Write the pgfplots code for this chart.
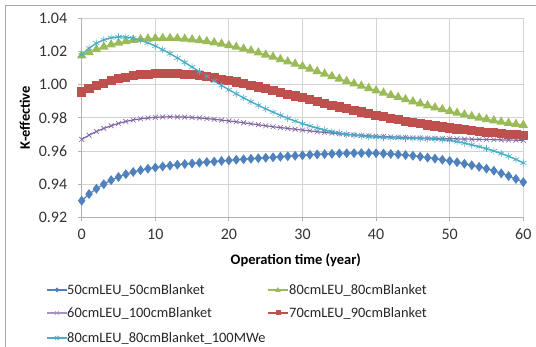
\documentclass[border=0pt]{standalone}
\usepackage{pgfplots}
\pgfplotsset{compat=1.18}
\usepackage{pgfplotstable}
\usepackage{fontspec}
\setmainfont{Carlito}
\definecolor{xblue}{HTML}{4F81BD}
\definecolor{xred}{HTML}{C0504D}
\definecolor{xgreen}{HTML}{9BBB59}
\definecolor{xpurple}{HTML}{8064A2}
\definecolor{xcyan}{HTML}{4BACC6}
\pgfplotstableread{
t a b c d e
0 0.9300 1.0175 0.9955 0.9670 1.0180
1 0.9340 1.0195 0.9975 0.9695 1.0220
2 0.9372 1.0213 0.9993 0.9717 1.0250
3 0.9400 1.0228 1.0009 0.9736 1.0270
4 0.9424 1.0241 1.0023 0.9752 1.0283
5 0.9443 1.0252 1.0035 0.9766 1.0288
6 0.9460 1.0261 1.0045 0.9778 1.0287
7 0.9473 1.0268 1.0053 0.9787 1.0280
8 0.9484 1.0273 1.0059 0.9794 1.0268
9 0.9493 1.0277 1.0063 0.9799 1.0252
10 0.9500 1.0279 1.0066 0.9803 1.0233
11 0.9507 1.0280 1.0067 0.9805 1.0211
12 0.9512 1.0280 1.0067 0.9806 1.0187
13 0.9517 1.0279 1.0066 0.9805 1.0161
14 0.9521 1.0276 1.0063 0.9804 1.0134
15 0.9525 1.0272 1.0059 0.9802 1.0106
16 0.9529 1.0267 1.0054 0.9799 1.0078
17 0.9533 1.0261 1.0048 0.9795 1.0050
18 0.9536 1.0254 1.0041 0.9791 1.0022
19 0.9540 1.0246 1.0033 0.9786 0.9995
20 0.9543 1.0237 1.0025 0.9781 0.9969
21 0.9547 1.0227 1.0016 0.9776 0.9944
22 0.9550 1.0216 1.0006 0.9770 0.9920
23 0.9553 1.0205 0.9996 0.9764 0.9897
24 0.9556 1.0193 0.9986 0.9758 0.9875
25 0.9559 1.0180 0.9975 0.9752 0.9854
26 0.9562 1.0167 0.9964 0.9746 0.9834
27 0.9565 1.0153 0.9953 0.9741 0.9815
28 0.9568 1.0139 0.9942 0.9736 0.9797
29 0.9571 1.0125 0.9931 0.9731 0.9780
30 0.9574 1.0110 0.9920 0.9726 0.9765
31 0.9577 1.0095 0.9909 0.9721 0.9751
32 0.9579 1.0080 0.9898 0.9716 0.9738
33 0.9581 1.0065 0.9887 0.9712 0.9727
34 0.9583 1.0050 0.9876 0.9708 0.9717
35 0.9585 1.0035 0.9865 0.9704 0.9708
36 0.9586 1.0021 0.9855 0.9700 0.9701
37 0.9587 1.0006 0.9845 0.9697 0.9695
38 0.9587 0.9992 0.9835 0.9694 0.9690
39 0.9587 0.9978 0.9825 0.9691 0.9686
40 0.9586 0.9964 0.9815 0.9689 0.9683
41 0.9584 0.9950 0.9806 0.9687 0.9681
42 0.9582 0.9937 0.9797 0.9685 0.9679
43 0.9579 0.9924 0.9788 0.9683 0.9678
44 0.9575 0.9911 0.9780 0.9681 0.9677
45 0.9571 0.9898 0.9772 0.9679 0.9676
46 0.9566 0.9886 0.9764 0.9678 0.9675
47 0.9560 0.9874 0.9757 0.9677 0.9673
48 0.9554 0.9862 0.9750 0.9676 0.9671
49 0.9547 0.9851 0.9744 0.9675 0.9668
50 0.9540 0.9840 0.9738 0.9674 0.9664
51 0.9532 0.9829 0.9732 0.9673 0.9656
52 0.9523 0.9819 0.9727 0.9672 0.9647
53 0.9514 0.9809 0.9722 0.9671 0.9637
54 0.9504 0.9800 0.9717 0.9670 0.9626
55 0.9493 0.9791 0.9713 0.9669 0.9614
56 0.9481 0.9783 0.9709 0.9668 0.9600
57 0.9465 0.9775 0.9705 0.9667 0.9585
58 0.9449 0.9768 0.9701 0.9666 0.9568
59 0.9431 0.9762 0.9698 0.9665 0.9549
60 0.9412 0.9756 0.9695 0.9664 0.9528
}\data
\begin{document}
\begin{tikzpicture}[x=1pt,y=1pt]
\path[use as bounding box] (0,0) rectangle (536,347);
\draw[gray!70, line width=1pt] (5.5,0) -- (5.5,341.5) -- (536,341.5);
\begin{axis}[
  at={(81.7pt,129.7pt)}, anchor=south west,
  scale only axis, width=441.6pt, height=199pt,
  xmin=0, xmax=60, ymin=0.92, ymax=1.04,
  xtick={0,10,...,60}, ytick={0.92,0.94,...,1.04},
  /pgf/number format/assume math mode=true,
  ticklabel style={font=\fontsize{16}{16}\selectfont, text=black!80},
  xticklabel style={yshift=-4pt},
  yticklabel style={xshift=-7pt, /pgf/number format/.cd,fixed,fixed zerofill,precision=2},
  grid=major, major grid style={gray!35, line width=0.8pt},
  axis line style={gray!60, line width=0.8pt},
  axis x line=bottom, axis y line=left,
  x axis line style={-}, y axis line style={-},
  tick style={gray!60, line width=0.8pt},
  major tick length=4pt,
  xtick pos=bottom, ytick pos=left,
  tick align=outside,
  xlabel={\textbf{Operation time (year)}},
  ylabel={\textbf{K-effective}},
  label style={font=\fontsize{14.5}{14.5}\selectfont},
  xlabel style={at={(axis description cs:0.485,0)}, anchor=north, yshift=-33pt},
  ylabel style={xshift=0pt, yshift=2pt},
  clip=false,
]
\addplot[xred, line width=1.2pt, mark=square*, mark size=4pt, mark options={solid}] table[x=t,y=c]{\data};
\addplot[xgreen, line width=1.2pt, mark=triangle*, mark size=4.3pt] table[x=t,y=b]{\data};
\addplot[xpurple, line width=1.2pt, mark=x, mark size=3.4pt, mark options={line width=0.6pt}] table[x=t,y=d]{\data};
\addplot[xcyan, line width=1.4pt, mark=asterisk, mark size=3.6pt, mark options={line width=0.6pt}] table[x=t,y=e]{\data};
\addplot[xblue, line width=1.2pt, mark=diamond*, mark size=4pt] table[x=t,y=a]{\data};
\end{axis}
% legend
\begin{scope}[font=\fontsize{14.4}{14.4}\selectfont, every node/.style={anchor=west, inner sep=0pt, text=black!85}]
\draw[xblue, line width=1.2pt] (47,57) -- (67,57);
\path[fill=xblue] (57,57) +(0,2.5) -- +(2.5,0) -- +(0,-2.5) -- +(-2.5,0) -- cycle;
\node at (67,57) {50cmLEU\_50cmBlanket};
\draw[xpurple!70, line width=1.2pt] (47,34) -- (67,34);
\draw[xpurple!70, line width=0.5pt] (55,32) -- (59,36) (55,36) -- (59,32);
\node at (67,34) {60cmLEU\_100cmBlanket};
\draw[xcyan, line width=1.4pt] (47,9) -- (67,9);
\draw[xcyan, line width=0.5pt] (55,7) -- (59,11) (55,11) -- (59,7) (57,6.5) -- (57,11.5);
\node at (67,9) {80cmLEU\_80cmBlanket\_100MWe};
\draw[xgreen, line width=1.2pt] (268,57) -- (288,57);
\path[fill=xgreen] (278,57) +(0,3) -- +(2.8,-2) -- +(-2.8,-2) -- cycle;
\node at (289,57) {80cmLEU\_80cmBlanket};
\draw[xred, line width=1.2pt] (268,34) -- (288,34);
\path[fill=xred] (275.5,31.5) rectangle (280.5,36.5);
\node at (289,34) {70cmLEU\_90cmBlanket};
\end{scope}
\end{tikzpicture}
\end{document}
